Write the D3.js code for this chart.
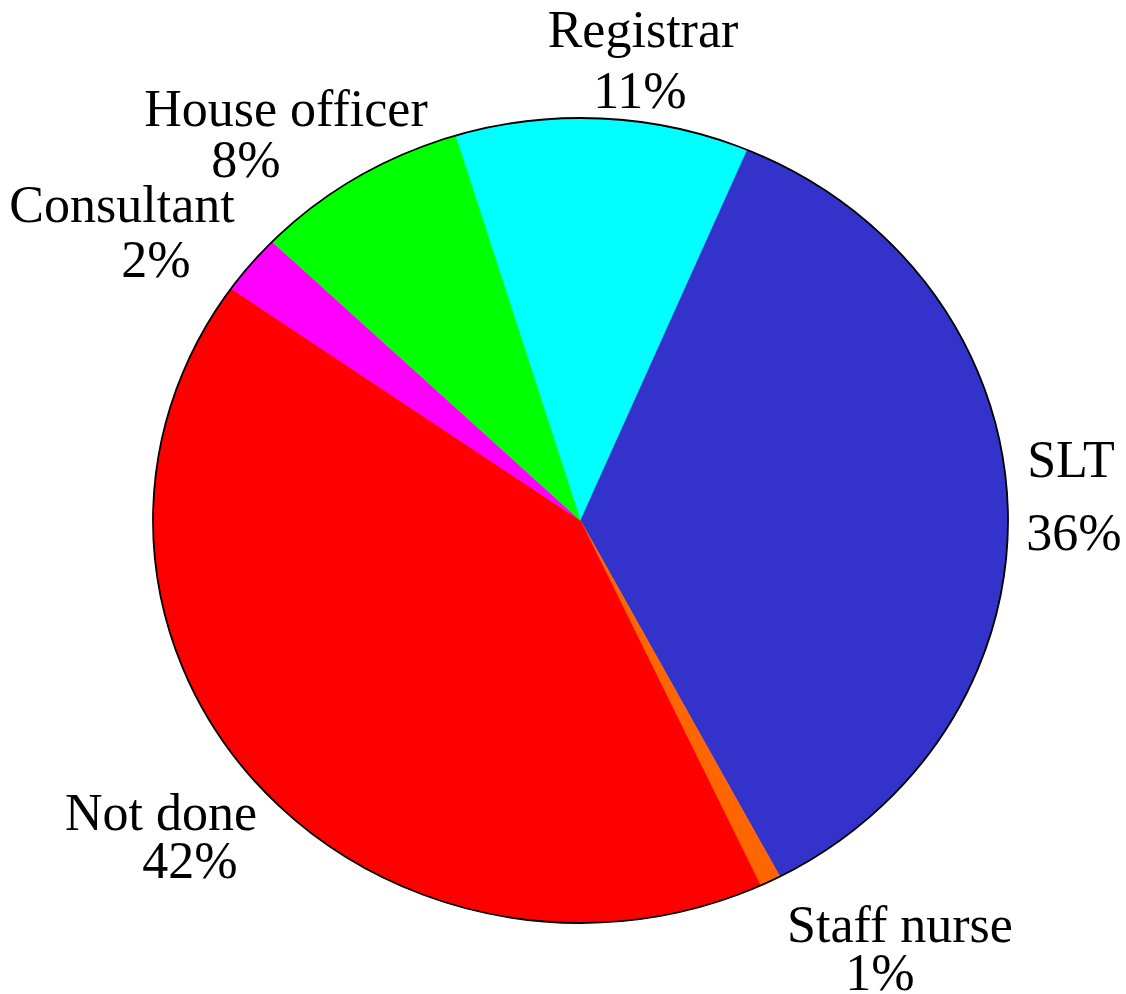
<!DOCTYPE html>
<html>
<head>
<meta charset="utf-8">
<script src="https://cdn.jsdelivr.net/npm/d3@7"></script>
<style>
  body { margin: 0; background: #fff; }
</style>
</head>
<body>
<div id="chart"></div>
<script>
// slice data, clockwise from the Registrar slice
const categories = ['Registrar', 'SLT', 'Staff nurse', 'Not done', 'Consultant', 'House officer']
const values = [11.1, 35.9, 0.8, 41.7, 2.4, 8.1]
const colors = ['#00ffff', '#3333cc', '#ff6600', '#ff0000', '#ff00ff', '#00ff00']

// label layout: [name x, name y, pct x, pct y]
const labelPos = {
  'Registrar': [643, 47, 640, 108],
  'SLT': [1071, 477, 1074, 550],
  'Staff nurse': [900, 942, 880, 990],
  'Not done': [161, 830, 190, 878],
  'Consultant': [122, 222, 156, 277],
  'House officer': [286, 126, 246, 177]
}

const width = 1126
const height = 994
const cx = 580.5
const cy = 520.5
const radius = 427.5
const squash = 402.5 / 427.5

const data = categories.map((c, i) => ({ name: c, value: values[i], color: colors[i] }))

const svg = d3.select('#chart')
  .append('svg')
  .attr('width', width)
  .attr('height', height)

const pie = d3.pie()
  .sort(null)
  .value(d => d.value)
  .startAngle(-17 * Math.PI / 180)
  .endAngle(343 * Math.PI / 180)

const arc = d3.arc().innerRadius(0).outerRadius(radius)

const g = svg.append('g')
  .attr('transform', `translate(${cx},${cy}) scale(1,${squash})`)

g.selectAll('path.slice')
  .data(pie(data))
  .enter()
  .append('path')
  .attr('class', 'slice')
  .attr('d', arc)
  .attr('fill', d => d.data.color)
  .attr('stroke', d => d.data.color)
  .attr('stroke-width', 0.5)

svg.append('ellipse')
  .attr('cx', cx)
  .attr('cy', cy)
  .attr('rx', radius)
  .attr('ry', radius * squash)
  .attr('fill', 'none')
  .attr('stroke', '#000')
  .attr('stroke-width', 1.8)

const total = d3.sum(values)

const addText = (x, y, str) => {
  svg.append('text')
    .attr('x', x)
    .attr('y', y)
    .attr('text-anchor', 'middle')
    .attr('font-family', "'Liberation Serif', 'Times New Roman', Times, serif")
    .attr('font-size', 52)
    .attr('fill', '#000')
    .text(str)
}

data.forEach(d => {
  const p = labelPos[d.name]
  addText(p[0], p[1], d.name)
  addText(p[2], p[3], Math.round(d.value / total * 100) + '%')
})
</script>
</body>
</html>
